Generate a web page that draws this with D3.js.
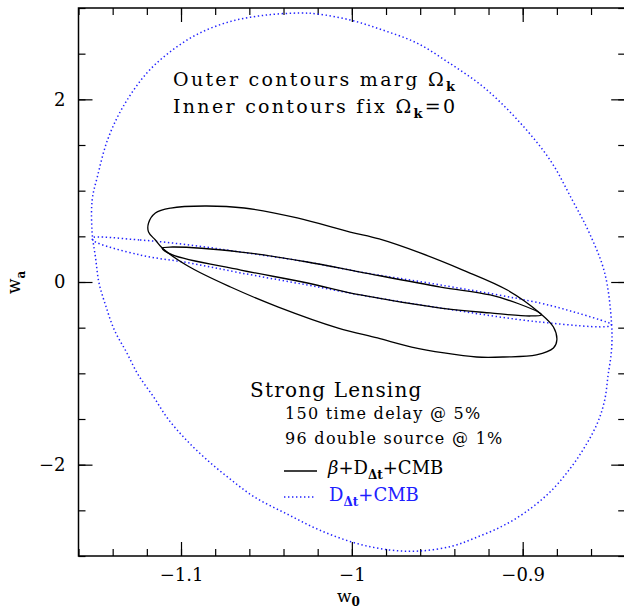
<!DOCTYPE html>
<html><head><meta charset="utf-8">
<script src="https://cdn.jsdelivr.net/npm/d3@7"></script>
<style>body{margin:0;background:#fff}svg{display:block}text{font-family:"DejaVu Serif",serif}</style>
</head><body>
<svg id="c" width="624" height="611"></svg>
<script>
// ---- axis definitions ----
const xDomain = [-1.16, -0.84];
const yDomain = [-3, 3];
const xMajorTicks = [-1.1, -1.0, -0.9];
const xMajorLabels = ["\u22121.1", "\u22121", "\u22120.9"];
const yMajorTicks = [-2, 0, 2];
const yMajorLabels = ["\u22122", "0", "2"];
const xMinorStep = 0.02;
const yMinorStep = 0.5;

// ---- contour data [w0, wa] ----
const outerBlue = [
  [-1.030, 2.945], [-1.020, 2.934], [-1.001, 2.869], [-0.982, 2.759], [-0.962, 2.617],
  [-0.943, 2.398], [-0.923, 2.135], [-0.903, 1.774], [-0.884, 1.336], [-0.871, 0.898],
  [-0.861, 0.537], [-0.852, 0.099], [-0.848, -0.449], [-0.848, -0.745], [-0.850, -1.018],
  [-0.852, -1.292], [-0.856, -1.533], [-0.863, -1.785], [-0.872, -2.037], [-0.884, -2.299],
  [-0.899, -2.529], [-0.913, -2.683], [-0.928, -2.803], [-0.941, -2.891], [-0.960, -2.945],
  [-0.978, -2.934], [-0.998, -2.858], [-1.019, -2.715], [-1.038, -2.540], [-1.057, -2.354],
  [-1.072, -2.146], [-1.086, -1.927], [-1.098, -1.708], [-1.108, -1.489], [-1.116, -1.259],
  [-1.125, -1.018], [-1.132, -0.766], [-1.139, -0.526], [-1.144, -0.263], [-1.148, -0.011],
  [-1.150, 0.263], [-1.152, 0.537], [-1.152, 0.898], [-1.149, 1.150], [-1.143, 1.555],
  [-1.134, 1.916], [-1.120, 2.288], [-1.105, 2.540], [-1.089, 2.726], [-1.070, 2.858],
  [-1.050, 2.923]
];
const outerBlack = [
  [-1.119, 0.646], [-1.115, 0.756], [-1.106, 0.810], [-1.086, 0.832], [-1.063, 0.810],
  [-1.032, 0.701], [-1.001, 0.547], [-0.984, 0.471], [-0.960, 0.318], [-0.935, 0.131],
  [-0.909, -0.088], [-0.890, -0.339], [-0.882, -0.493], [-0.880, -0.635], [-0.882, -0.723],
  [-0.892, -0.799], [-0.911, -0.821], [-0.927, -0.821], [-0.946, -0.777], [-0.965, -0.712],
  [-0.985, -0.613], [-1.008, -0.504], [-1.043, -0.274], [-1.071, -0.055], [-1.096, 0.175],
  [-1.111, 0.372], [-1.115, 0.460], [-1.119, 0.547]
];
const innerBlack = [
  [-1.111, 0.372], [-1.105, 0.383], [-1.065, 0.328], [-1.026, 0.219], [-0.995, 0.109],
  [-0.948, -0.055], [-0.919, -0.142], [-0.902, -0.241], [-0.890, -0.339], [-0.889, -0.361],
  [-0.896, -0.372], [-0.919, -0.339], [-0.948, -0.285], [-0.995, -0.142], [-1.026, -0.011],
  [-1.065, 0.131], [-1.105, 0.296]
];
const innerBlue = [
  [-1.152, 0.482], [-1.124, 0.460], [-1.095, 0.405], [-1.065, 0.328], [-1.026, 0.219],
  [-0.995, 0.109], [-0.948, -0.033], [-0.890, -0.230], [-0.868, -0.339], [-0.851, -0.438],
  [-0.848, -0.460], [-0.849, -0.482], [-0.890, -0.438], [-0.948, -0.285], [-0.995, -0.142],
  [-1.026, -0.033], [-1.065, 0.099], [-1.095, 0.208], [-1.124, 0.296], [-1.151, 0.449]
];

const svg = d3.select("#c");
const L = 78.5, R = 625.2, T = 8, B = 556;
const x = d3.scaleLinear().domain(xDomain).range([L, R]);
const y = d3.scaleLinear().domain(yDomain).range([B, T]);

const xMinor = d3.range(Math.round((xDomain[1]-xDomain[0])/xMinorStep)+1).map(i => +(xDomain[0]+i*xMinorStep).toFixed(3));
const yMinor = d3.range(Math.round((yDomain[1]-yDomain[0])/yMinorStep)+1).map(i => yDomain[0]+i*yMinorStep);

const tickStyle = g => { g.select(".domain").remove(); g.selectAll("line").attr("stroke","#000").attr("stroke-width",1.2); g.selectAll("text").attr("fill","#000").style("font-family","DejaVu Serif").style("font-size","18px"); };

// minor ticks
svg.append("g").attr("transform",`translate(0,${B})`).call(d3.axisBottom(x).tickValues(xMinor).tickSize(-7).tickFormat("")).call(tickStyle);
svg.append("g").attr("transform",`translate(0,${T})`).call(d3.axisTop(x).tickValues(xMinor).tickSize(-7).tickFormat("")).call(tickStyle);
svg.append("g").attr("transform",`translate(${L},0)`).call(d3.axisLeft(y).tickValues(yMinor).tickSize(-7).tickFormat("")).call(tickStyle);
svg.append("g").attr("transform",`translate(${R},0)`).call(d3.axisRight(y).tickValues(yMinor).tickSize(-7).tickFormat("")).call(tickStyle);
// major ticks
svg.append("g").attr("transform",`translate(0,${B})`).call(d3.axisBottom(x).tickValues(xMajorTicks).tickSize(-14).tickPadding(12).tickFormat((d,i)=>xMajorLabels[i])).call(tickStyle);
svg.append("g").attr("transform",`translate(0,${T})`).call(d3.axisTop(x).tickValues(xMajorTicks).tickSize(-14).tickFormat("")).call(tickStyle);
svg.append("g").attr("transform",`translate(${L},0)`).call(d3.axisLeft(y).tickValues(yMajorTicks).tickSize(-14).tickPadding(13).tickFormat((d,i)=>yMajorLabels[i])).call(tickStyle);
svg.append("g").attr("transform",`translate(${R},0)`).call(d3.axisRight(y).tickValues(yMajorTicks).tickSize(-14).tickFormat("")).call(tickStyle);

svg.append("rect").attr("x",L).attr("y",T).attr("width",R-L).attr("height",B-T).attr("fill","none").attr("stroke","#000").attr("stroke-width",1.5);

const closedCurve = d3.line().x(d=>x(d[0])).y(d=>y(d[1])).curve(d3.curveCatmullRomClosed.alpha(0.5));
const blueDot = {stroke:"#2020ff", width:1.5, dash:"1.4,2.6"};

svg.append("path").datum(outerBlue).attr("d", closedCurve)
  .attr("fill","none").attr("stroke",blueDot.stroke).attr("stroke-width",blueDot.width).attr("stroke-dasharray",blueDot.dash);
svg.append("path").datum(innerBlue).attr("d", closedCurve)
  .attr("fill","none").attr("stroke",blueDot.stroke).attr("stroke-width",blueDot.width).attr("stroke-dasharray",blueDot.dash);
svg.append("path").datum(outerBlack).attr("d", closedCurve)
  .attr("fill","none").attr("stroke","#000").attr("stroke-width",1.3);
svg.append("path").datum(innerBlack).attr("d", closedCurve)
  .attr("fill","none").attr("stroke","#000").attr("stroke-width",1.3);

// ---- text helper ----
function rich(px, py, parts, opts={}) {
  const t = svg.append("text").attr("x",px).attr("y",py).attr("fill",opts.fill||"#000")
    .style("font-size",(opts.size||18)+"px").style("letter-spacing",(opts.ls||0)+"px");
  if (opts.rotate) t.attr("transform",`rotate(${opts.rotate},${px},${py})`);
  parts.forEach(p => {
    const s = t.append("tspan").text(p.t);
    if (p.sub) s.attr("dy", p.sub).style("font-size",p.size+"px");
    if (p.up) s.attr("dy", -p.up);
    if (p.bold) s.style("font-weight","bold");
    if (p.italic) s.style("font-style","italic");
  });
  return t;
}

rich(173, 86, [{t:"Outer contours marg \u03A9"},{t:"k",sub:5,size:13,bold:true}], {size:19, ls:2.3});
rich(173, 113, [{t:"Inner contours fix \u03A9"},{t:"k",sub:5,size:13,bold:true},{t:"=0",up:5}], {size:19, ls:2.3});

rich(250, 397, [{t:"Strong Lensing"}], {size:20, ls:1.2});
rich(285, 419, [{t:"150 time delay @ 5%"}], {size:16, ls:1.3});
rich(285, 444, [{t:"96 double source @ 1%"}], {size:16, ls:1.3});

svg.append("line").attr("x1",284).attr("x2",317).attr("y1",471).attr("y2",471).attr("stroke","#000").attr("stroke-width",1.3);
rich(328, 474, [{t:"\u03B2",italic:true},{t:"+D"},{t:"\u0394t",sub:5,size:12,bold:true},{t:"+CMB",up:5}], {size:18, ls:0});
svg.append("line").attr("x1",284).attr("x2",316).attr("y1",497).attr("y2",497).attr("stroke",blueDot.stroke).attr("stroke-width",blueDot.width).attr("stroke-dasharray",blueDot.dash);
rich(329, 501, [{t:"D"},{t:"\u0394t",sub:5,size:12,bold:true},{t:"+CMB",up:5}], {size:18, ls:0, fill:"#2020ff"});

// axis titles
rich(337, 602, [{t:"w"},{t:"0",sub:4,size:12,bold:true}], {size:17});
rich(20, 294, [{t:"w"},{t:"a",sub:5,size:12,bold:true}], {size:18, rotate:-90});
</script>
</body></html>
